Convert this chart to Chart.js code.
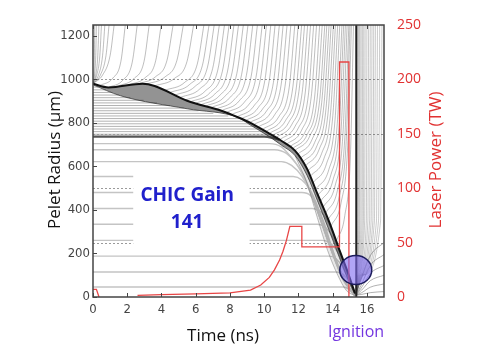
<!DOCTYPE html>
<html>
<head>
<meta charset="UTF-8">
<title>CHIC Gain 141</title>
<script src="https://cdn.jsdelivr.net/npm/chart.js"></script>
<style>
  html, body { margin: 0; padding: 0; background: #fff; }
</style>
</head>
<body>
<canvas id="chicChart" width="485" height="360"></canvas>
<script>
// Tick values
var timeTicks = [0, 2, 4, 6, 8, 10, 12, 14, 16];
var radiusTicks = [0, 200, 400, 600, 800, 1000, 1200];
var powerTicks = [0, 50, 100, 150, 200, 250];

// Laser pulse (TW) vs time (ns); null breaks the line
var laserTime  = [0, 0.2, 0.35, 1.5, 2.6, 4, 6, 8, 9.2, 9.8, 10.3, 10.6, 10.9, 11.1, 11.3, 11.5, 12.2, 12.2, 14.4, 14.4, 14.95, 14.95];
var laserPower = [7, 7, 0, null, 1.5, 2.2, 2.8, 3.7, 6.4, 11, 18, 25, 34, 42, 52, 65, 65, 46, 46, 216, 216, 0];

// Dense shell (outer edge) and inner edge / shock
var bandOuterT = [0, 0.9, 2.9, 3.6, 5.5, 7.5, 8.5, 9.2, 10.3, 11.0, 11.8, 12.5, 13.1, 13.8, 14.4, 14.9, 15.3];
var bandOuterR = [980, 963, 980, 970, 902, 856, 825, 800, 751, 718, 673, 590, 476, 345, 215, 110, 18];
var bandInnerT = [0, 1.6, 5.5, 8.5, 9.2, 10.3, 11.0, 11.8, 12.5, 13.1, 13.8, 14.4, 14.9, 15.3];
var bandInnerR = [975, 925, 865, 824, 790, 737, 698, 650, 560, 445, 305, 180, 80, 12];
var haloEdgeT = [11.8, 12.5, 13.1, 13.7, 14.3, 14.8, 15.3];
var haloEdgeR = [650, 522, 366, 215, 100, 30, 6];

var burnTime = 15.38;

// Ice / gas interface
var interfaceLine = [[0, 737], [10.0, 737], [10.5, 731], [10.9, 722]];

// Ablator layers: start radius, and time the shock reaches them
var ablatorR    = [965, 952, 940, 928, 916, 904, 892, 880, 868, 856, 844, 832, 820, 808, 796, 784, 772, 760, 748];
var ablatorEndT = [0.32, 0.74, 1.13, 1.5, 2.18, 2.96, 3.74, 4.5, 5.3, 6.16, 7.03, 7.9, 8.62, 8.97, 9.29, 9.56, 9.83, 10.1, 10.37];

// Fuel layers (horizontal, then imploding)
var fuelLines = [
  [[0, 705], [10.3, 705], [11.0, 690], [11.6, 640], [12.3, 560], [13.0, 420], [13.8, 240], [14.6, 80], [15.3, 8]],
  [[0, 677], [10.6, 677], [11.3, 660], [11.9, 610], [12.5, 520], [13.2, 380], [13.9, 220], [14.6, 90], [15.3, 8]],
  [[0, 622], [11.0, 622], [11.6, 605], [12.2, 555], [12.8, 460], [13.4, 330], [14.0, 200], [14.7, 70], [15.3, 6]],
  [[0, 554], [11.7, 554], [12.2, 538], [12.7, 490], [13.2, 400], [13.7, 280], [14.3, 150], [14.8, 60], [15.3, 6]],
  [[0, 480], [12.2, 480], [12.7, 466], [13.1, 415], [13.5, 340], [13.9, 240], [14.4, 130], [14.9, 50], [15.3, 5]],
  [[0, 407], [12.8, 407], [13.3, 392], [13.7, 350], [14.1, 280], [14.5, 190], [14.9, 95], [15.3, 5]],
  [[0, 334], [13.1, 334], [13.6, 318], [14.0, 275], [14.4, 200], [14.8, 110], [15.3, 5]],
  [[0, 260], [13.4, 260], [13.9, 245], [14.3, 205], [14.7, 135], [15.0, 70], [15.3, 5]],
  [[0, 188], [13.8, 188], [14.2, 176], [14.6, 135], [14.95, 75], [15.3, 5]],
  [[0, 115], [14.2, 115], [14.6, 105], [14.95, 70], [15.3, 5]],
  [[0, 46], [14.6, 46], [14.95, 36], [15.3, 5]]
];

// Ablated plasma trajectories
var blowoffLines = [
  [[0, 980], [0.05, 1020], [0.08, 1110], [0.1, 1260]],
  [[0, 980], [0.09, 1020], [0.16, 1110], [0.2, 1260]],
  [[0, 980], [0.16, 1020], [0.28, 1110], [0.35, 1260]],
  [[0, 980], [0.22, 1020], [0.4, 1110], [0.5, 1260]],
  [[0, 980], [0.32, 1020], [0.56, 1110], [0.7, 1260]],
  [[0, 980], [0.43, 1020], [0.76, 1110], [0.95, 1260]],
  [[0, 980], [0.56, 1020], [1.0, 1110], [1.25, 1260]],
  [[0.4, 972], [1.15, 1005], [1.63, 1083], [1.9, 1260]],
  [[0.9, 963], [1.75, 997], [2.29, 1078], [2.6, 1260]],
  [[1.5, 970], [2.4, 1004], [2.98, 1082], [3.3, 1260]],
  [[2.1, 975], [3.05, 1008], [3.66, 1085], [4.0, 1260]],
  [[2.6, 979], [3.65, 1012], [4.32, 1087], [4.7, 1260]],
  [[3.1, 978], [4.2, 1011], [4.9, 1087], [5.3, 1260]],
  [[3.6, 970], [4.75, 1004], [5.49, 1082], [5.9, 1260]],
  [[4.2, 950], [5.35, 986], [6.09, 1070], [6.5, 1260]],
  [[4.5, 940], [5.65, 977], [6.39, 1064], [6.8, 1260]],
  [[4.8, 928], [5.95, 967], [6.69, 1057], [7.1, 1260]],
  [[5.1, 917], [6.25, 957], [6.99, 1050], [7.4, 1260]],
  [[5.4, 905], [6.55, 946], [7.29, 1043], [7.7, 1260]],
  [[5.7, 897], [6.84, 939], [7.56, 1038], [7.97, 1260]],
  [[6.0, 890], [7.12, 933], [7.85, 1034], [8.25, 1260]],
  [[6.3, 883], [7.41, 927], [8.12, 1030], [8.52, 1260]],
  [[6.6, 877], [7.7, 922], [8.4, 1026], [8.8, 1260]],
  [[6.9, 870], [7.99, 916], [8.68, 1022], [9.07, 1260]],
  [[7.2, 863], [8.27, 909], [8.96, 1018], [9.35, 1260]],
  [[7.5, 856], [8.56, 903], [9.24, 1014], [9.62, 1260]],
  [[7.8, 848], [8.85, 896], [9.52, 1009], [9.9, 1260]],
  [[8.1, 838], [9.13, 887], [9.78, 1003], [10.15, 1260]],
  [[8.4, 827], [9.4, 878], [10.04, 996], [10.4, 1260]],
  [[8.65, 818], [9.65, 870], [10.29, 991], [10.65, 1260]],
  [[8.9, 810], [9.9, 863], [10.54, 986], [10.9, 1260]],
  [[9.15, 801], [10.14, 855], [10.77, 981], [11.12, 1260]],
  [[9.4, 792], [10.38, 847], [10.99, 975], [11.35, 1260]],
  [[9.65, 781], [10.61, 837], [11.22, 969], [11.57, 1260]],
  [[9.9, 770], [10.85, 828], [11.46, 962], [11.8, 1260]],
  [[10.1, 760], [11.05, 819], [11.66, 956], [12.0, 1260]],
  [[10.3, 751], [11.25, 811], [11.86, 951], [12.2, 1260]],
  [[10.5, 742], [11.44, 803], [12.03, 945], [12.37, 1260]],
  [[10.7, 733], [11.63, 795], [12.22, 940], [12.55, 1260]],
  [[10.9, 722], [11.81, 785], [12.39, 933], [12.72, 1260]],
  [[11.1, 712], [12.0, 777], [12.58, 927], [12.9, 1260]],
  [[11.3, 701], [12.19, 767], [12.75, 921], [13.07, 1260]],
  [[11.5, 690], [12.38, 757], [12.94, 914], [13.25, 1260]],
  [[11.65, 681], [12.53, 749], [13.09, 909], [13.4, 1260]],
  [[11.8, 673], [12.68, 742], [13.24, 904], [13.55, 1260]],
  [[11.95, 655], [12.81, 726], [13.36, 893], [13.67, 1260]],
  [[12.1, 636], [12.95, 710], [13.49, 882], [13.8, 1260]],
  [[12.25, 620], [13.09, 696], [13.62, 872], [13.92, 1260]],
  [[12.4, 602], [13.22, 680], [13.75, 861], [14.05, 1260]],
  [[12.55, 580], [13.36, 660], [13.88, 848], [14.17, 1260]],
  [[12.7, 555], [13.5, 638], [14.01, 833], [14.3, 1260]],
  [[12.85, 525], [13.64, 612], [14.14, 815], [14.42, 1260]],
  [[13.0, 495], [13.78, 586], [14.27, 797], [14.55, 1260]],
  [[13.15, 468], [13.9, 562], [14.38, 781], [14.65, 1260]],
  [[13.3, 440], [14.02, 537], [14.49, 764], [14.75, 1260]],
  [[13.45, 413], [14.15, 513], [14.6, 748], [14.85, 1260]],
  [[13.6, 386], [14.28, 490], [14.71, 732], [14.95, 1260]],
  [[13.75, 356], [14.39, 463], [14.79, 714], [15.02, 1260]],
  [[13.9, 325], [14.5, 436], [14.88, 695], [15.1, 1260]],
  [[14.2, 255], [14.71, 374], [15.04, 653], [15.22, 1260]]
];

// Exploding shell after ignition
var explosionLines = [
  [[15.36, 12], [15.39, 100], [15.44, 350], [15.45, 1260]],
  [[15.36, 12], [15.4, 100], [15.49, 350], [15.5, 1260]],
  [[15.36, 12], [15.41, 100], [15.54, 350], [15.55, 1260]],
  [[15.36, 12], [15.43, 100], [15.59, 350], [15.6, 1260]],
  [[15.36, 12], [15.45, 100], [15.66, 350], [15.67, 1260]],
  [[15.36, 12], [15.47, 100], [15.73, 350], [15.75, 1260]],
  [[15.36, 12], [15.5, 100], [15.8, 350], [15.82, 1260]],
  [[15.36, 12], [15.52, 100], [15.87, 350], [15.9, 1260]],
  [[15.36, 12], [15.55, 100], [15.97, 350], [16.0, 1260]],
  [[15.36, 12], [15.58, 100], [16.06, 350], [16.1, 1260]],
  [[15.36, 12], [15.61, 100], [16.16, 350], [16.2, 1260]],
  [[15.36, 12], [15.64, 100], [16.25, 350], [16.3, 1260]],
  [[15.36, 12], [15.67, 100], [16.35, 350], [16.4, 1260]],
  [[15.36, 12], [15.7, 100], [16.44, 350], [16.5, 1260]],
  [[15.36, 12], [15.74, 100], [16.56, 350], [16.62, 1260]],
  [[15.36, 12], [15.77, 100], [16.68, 350], [16.75, 1260]],
  [[15.36, 12], [15.82, 100], [16.8, 350], [16.88, 1260]]
];
var reboundLines = [
  [[15.36, 8], [15.7, 12], [16.2, 20], [17, 25]],
  [[15.36, 8], [15.7, 20], [16.2, 45], [17, 60]],
  [[15.36, 8], [15.7, 32], [16.2, 75], [17, 100]],
  [[15.36, 8], [15.7, 45], [16.2, 108], [17, 145]],
  [[15.36, 8], [15.7, 60], [16.2, 145], [17, 195]],
  [[15.36, 8], [15.65, 80], [16.2, 190], [17, 250]]
];

function pts(arr) { return arr.map(function (p) { return { x: p[0], y: p[1] }; }); }
function zip(ts, vs) { return ts.map(function (t, i) { return { x: t, y: vs[i] }; }); }

function traj(data, color, width) {
  return { data: data, borderColor: color, borderWidth: width, cubicInterpolationMode: 'monotone', fill: false };
}

var datasets = [];
datasets.push({ data: zip(laserTime, laserPower), yAxisID: 'y2', borderColor: 'rgb(232,70,70)', borderWidth: 1.3, spanGaps: false, fill: false });
datasets.push({ data: pts([[burnTime, 0], [burnTime, 1260]]), borderColor: '#222', borderWidth: 2, fill: false });
var outer = traj(zip(bandOuterT, bandOuterR), '#111', 2);
outer.fill = '+1';
outer.backgroundColor = 'rgba(40,40,40,0.5)';
datasets.push(outer);
datasets.push(traj(zip(bandInnerT, bandInnerR), 'rgba(70,70,70,0.8)', 1));
var haloTop = traj(zip(bandInnerT.slice(7), bandInnerR.slice(7)), 'rgba(0,0,0,0)', 0);
haloTop.fill = '+1';
haloTop.backgroundColor = 'rgba(0,0,0,0.09)';
datasets.push(haloTop);
datasets.push(traj(zip(haloEdgeT, haloEdgeR), 'rgba(120,120,120,0.6)', 0.8));
datasets.push(traj(pts(interfaceLine), '#555', 2.4));
fuelLines.forEach(function (l) { datasets.push(traj(pts(l), '#c4c4c4', 1.4)); });
ablatorR.forEach(function (r, i) { datasets.push(traj(pts([[0, r], [ablatorEndT[i], r]]), '#a0a0a0', 0.8)); });
blowoffLines.forEach(function (l) { datasets.push(traj(pts(l), 'rgba(70,70,70,0.5)', 0.7)); });
explosionLines.forEach(function (l) { datasets.push(traj(pts(l), 'rgba(70,70,70,0.4)', 0.7)); });
reboundLines.forEach(function (l) { datasets.push(traj(pts(l), 'rgba(90,90,90,0.6)', 0.8)); });

var narrow = "'DejaVu Sans Condensed', 'Liberation Sans Narrow', sans-serif";
var calibri = "'Open Sans', 'Liberation Sans', sans-serif";

var overlay = {
  id: 'overlay',
  beforeDatasetsDraw: function (chart) {
    var ctx = chart.ctx, a = chart.chartArea, y2 = chart.scales.y2;
    ctx.save();
    ctx.strokeStyle = '#9a9a9a';
    ctx.lineWidth = 1;
    ctx.setLineDash([2, 2]);
    powerTicks.forEach(function (v) {
      if (v <= 0 || v >= 250) return;
      var py = Math.round(y2.getPixelForValue(v)) + 0.5;
      ctx.beginPath(); ctx.moveTo(a.left, py); ctx.lineTo(a.right, py); ctx.stroke();
    });
    ctx.restore();
  },
  afterDatasetsDraw: function (chart) {
    var ctx = chart.ctx, a = chart.chartArea, x = chart.scales.x, y = chart.scales.y;
    ctx.save();
    // white label box
    var bx0 = x.getPixelForValue(2.35), bx1 = x.getPixelForValue(9.15);
    var by0 = y.getPixelForValue(585), by1 = y.getPixelForValue(225);
    ctx.fillStyle = '#fff';
    ctx.fillRect(bx0, by0, bx1 - bx0, by1 - by0);
    ctx.fillStyle = '#2020cc';
    ctx.font = "bold 19px " + calibri;
    ctx.textAlign = 'center';
    ctx.textBaseline = 'middle';
    ctx.fillText('CHIC Gain', x.getPixelForValue(5.5), y.getPixelForValue(464));
    ctx.fillText('141', x.getPixelForValue(5.5), y.getPixelForValue(340));

    // ignition ellipse
    ctx.beginPath();
    ctx.ellipse(x.getPixelForValue(15.35), y.getPixelForValue(124), 16, 14.5, 0, 0, Math.PI * 2);
    ctx.fillStyle = 'rgba(125,105,240,0.6)';
    ctx.fill();
    ctx.lineWidth = 1.5;
    ctx.strokeStyle = '#1c1c5c';
    ctx.stroke();

    // frame and inner ticks
    ctx.strokeStyle = '#444';
    ctx.lineWidth = 1.5;
    ctx.strokeRect(a.left, a.top, a.right - a.left, a.bottom - a.top);
    ctx.lineWidth = 1;
    ctx.beginPath();
    timeTicks.forEach(function (v) {
      var px = Math.round(x.getPixelForValue(v)) + 0.5;
      ctx.moveTo(px, a.bottom); ctx.lineTo(px, a.bottom - 4);
      ctx.moveTo(px, a.top); ctx.lineTo(px, a.top + 4);
    });
    radiusTicks.forEach(function (v) {
      var py = Math.round(y.getPixelForValue(v)) + 0.5;
      ctx.moveTo(a.left, py); ctx.lineTo(a.left + 4, py);
    });
    ctx.stroke();

    // axis titles
    ctx.fillStyle = '#111';
    ctx.font = "17px " + calibri;
    ctx.fillText('Time (ns)', 223, 336);
    ctx.save();
    ctx.translate(55, 160); ctx.rotate(-Math.PI / 2);
    ctx.fillText('Pelet Radius (\u00b5m)', 0, 0);
    ctx.restore();
    ctx.save();
    ctx.fillStyle = 'rgb(225,50,50)';
    ctx.translate(436, 160); ctx.rotate(-Math.PI / 2);
    ctx.fillText('Laser Power (TW)', 0, 0);
    ctx.restore();
    ctx.fillStyle = '#7436e0';
    ctx.font = "16px " + calibri;
    ctx.fillText('Ignition', 356, 332);
    ctx.restore();
  }
};

function plain(v) { return String(v); }

new Chart(document.getElementById('chicChart').getContext('2d'), {
  type: 'line',
  data: { datasets: datasets },
  options: {
    responsive: false,
    animation: false,
    layout: { padding: { top: 25, left: 0, right: 0, bottom: 0 } },
    elements: { point: { radius: 0 } },
    plugins: { legend: { display: false }, tooltip: { enabled: false } },
    scales: {
      x: {
        type: 'linear', min: 0, max: 17,
        afterBuildTicks: function (s) { s.ticks = timeTicks.map(function (v) { return { value: v }; }); },
        afterFit: function (s) { s.height = 63; },
        grid: { display: false, drawTicks: false },
        border: { display: false },
        ticks: { padding: 5, color: '#444', callback: plain, font: { family: narrow, size: 13 } }
      },
      y: {
        type: 'linear', position: 'left', min: 0, max: 1250,
        afterBuildTicks: function (s) { s.ticks = radiusTicks.map(function (v) { return { value: v }; }); },
        afterFit: function (s) { s.width = 93; },
        grid: { display: false, drawTicks: false },
        border: { display: false },
        ticks: { padding: 3, color: '#444', callback: plain, font: { family: narrow, size: 13 } }
      },
      y2: {
        type: 'linear', position: 'right', min: 0, max: 250,
        afterBuildTicks: function (s) { s.ticks = powerTicks.map(function (v) { return { value: v }; }); },
        afterFit: function (s) { s.width = 101; },
        grid: { display: false, drawTicks: false },
        border: { display: false },
        ticks: { padding: 13, color: 'rgb(225,50,50)', callback: plain, font: { family: calibri, size: 14 } }
      }
    }
  },
  plugins: [overlay]
});
</script>
</body>
</html>
